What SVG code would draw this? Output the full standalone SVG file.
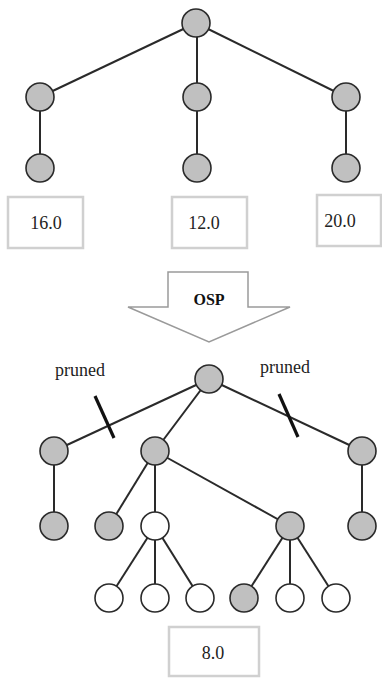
<svg xmlns="http://www.w3.org/2000/svg" width="382" height="678" viewBox="0 0 382 678">
<style>
.n{fill:#c0c0c0;stroke:#2a2a2a;stroke-width:1.6}
.w{fill:#ffffff;stroke:#2a2a2a;stroke-width:1.6}
.e{stroke:#2a2a2a;stroke-width:2;fill:none}
.p{stroke:#111;stroke-width:3.2}
.b{fill:#fff;stroke:#d0d0d0;stroke-width:2.5}
.t{font-family:"Liberation Serif",serif;font-size:18px;fill:#222;text-anchor:middle}
</style>
<rect width="382" height="678" fill="#fff"/>
<g id="connectors">
<line class="e" x1="196" y1="23" x2="40" y2="97"/>
<line class="e" x1="197" y1="23" x2="197" y2="97"/>
<line class="e" x1="196" y1="23" x2="346" y2="97"/>
<line class="e" x1="40" y1="97" x2="40" y2="168"/>
<line class="e" x1="197" y1="97" x2="197" y2="168"/>
<line class="e" x1="346" y1="97" x2="346" y2="168"/>
<line class="e" x1="209" y1="379" x2="54" y2="451"/>
<line class="e" x1="209" y1="379" x2="155" y2="451"/>
<line class="e" x1="209" y1="379" x2="362" y2="451"/>
<line class="e" x1="54" y1="451" x2="54" y2="526"/>
<line class="e" x1="362" y1="451" x2="362" y2="526"/>
<line class="e" x1="155" y1="451" x2="109" y2="526"/>
<line class="e" x1="155" y1="451" x2="155" y2="526"/>
<line class="e" x1="155" y1="451" x2="290" y2="526"/>
<line class="e" x1="155" y1="526" x2="109" y2="598"/>
<line class="e" x1="155" y1="526" x2="155" y2="598"/>
<line class="e" x1="155" y1="526" x2="200" y2="598"/>
<line class="e" x1="290" y1="526" x2="244" y2="598"/>
<line class="e" x1="290" y1="526" x2="290" y2="598"/>
<line class="e" x1="290" y1="526" x2="336" y2="598"/>
<line class="p" x1="95" y1="396" x2="114" y2="438"/>
<line class="p" x1="279" y1="394" x2="298" y2="437"/>
</g>
<g id="top-root"><circle class="n" cx="196" cy="23" r="14"/></g>
<g id="top-l1"><circle class="n" cx="40" cy="97" r="14"/></g>
<g id="top-m1"><circle class="n" cx="197" cy="97" r="14"/></g>
<g id="top-r1"><circle class="n" cx="346" cy="97" r="14"/></g>
<g id="top-l2"><circle class="n" cx="40" cy="168" r="14"/></g>
<g id="top-m2"><circle class="n" cx="197" cy="168" r="14"/></g>
<g id="top-r2"><circle class="n" cx="346" cy="168" r="14"/></g>
<g id="box-16"><rect class="b" x="8" y="197" width="75" height="51"/><text class="t" x="46" y="229">16.0</text></g>
<g id="box-12"><rect class="b" x="172" y="197" width="75" height="51"/><text class="t" x="204" y="229">12.0</text></g>
<g id="box-20"><rect class="b" x="317" y="195" width="64" height="51"/><text class="t" x="340" y="227">20.0</text></g>
<g id="osp-arrow">
<polygon points="168,272 248,272 248,307 290,307 209,342 128,307 168,307" fill="#fff" stroke="#9a9a9a" stroke-width="1.5"/>
<text x="209" y="305" font-family="Liberation Serif, serif" font-size="16" font-weight="bold" fill="#111" text-anchor="middle">OSP</text>
</g>
<g id="label-pruned-left"><text class="t" x="80" y="376">pruned</text></g>
<g id="label-pruned-right"><text class="t" x="285" y="373">pruned</text></g>
<g id="b-root"><circle class="n" cx="209" cy="379" r="14"/></g>
<g id="b-l1"><circle class="n" cx="54" cy="451" r="14"/></g>
<g id="b-m1"><circle class="n" cx="155" cy="451" r="14"/></g>
<g id="b-r1"><circle class="n" cx="362" cy="451" r="14"/></g>
<g id="b-l2"><circle class="n" cx="54" cy="526" r="14"/></g>
<g id="b-m2a"><circle class="n" cx="109" cy="526" r="14"/></g>
<g id="b-m2b"><circle class="w" cx="155" cy="526" r="14"/></g>
<g id="b-m2c"><circle class="n" cx="290" cy="526" r="14"/></g>
<g id="b-r2"><circle class="n" cx="362" cy="526" r="14"/></g>
<g id="b-3a"><circle class="w" cx="109" cy="598" r="14"/></g>
<g id="b-3b"><circle class="w" cx="155" cy="598" r="14"/></g>
<g id="b-3c"><circle class="w" cx="200" cy="598" r="14"/></g>
<g id="b-3d"><circle class="n" cx="244" cy="598" r="14"/></g>
<g id="b-3e"><circle class="w" cx="290" cy="598" r="14"/></g>
<g id="b-3f"><circle class="w" cx="336" cy="598" r="14"/></g>
<g id="box-8"><rect class="b" x="169" y="627" width="90" height="49"/><text class="t" x="213" y="659">8.0</text></g>
</svg>
